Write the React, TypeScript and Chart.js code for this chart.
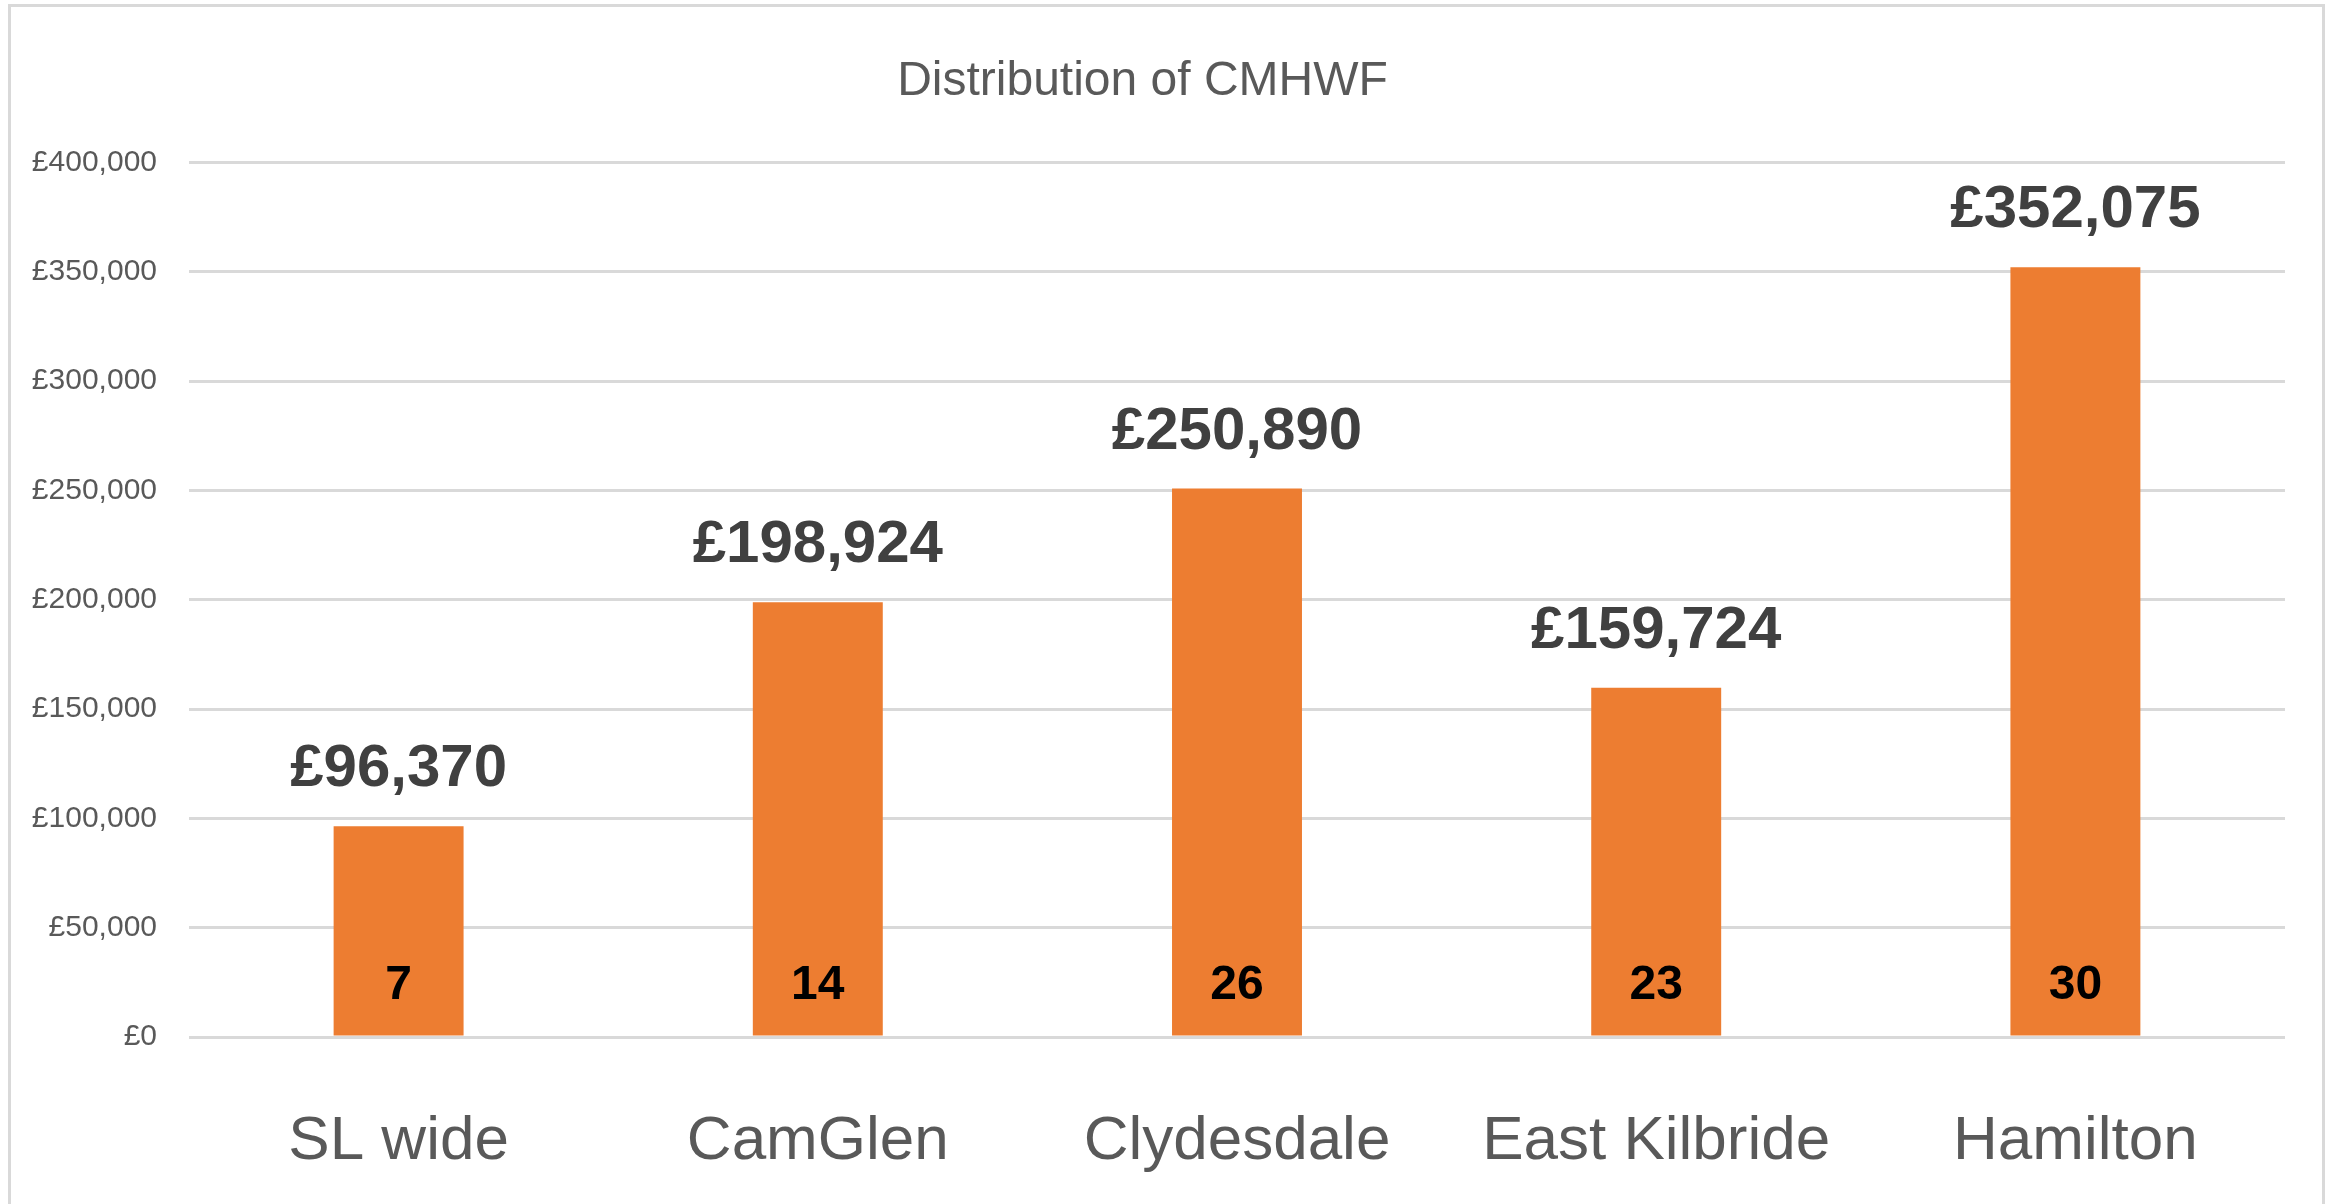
import React, { useEffect, useRef } from "react";
import { Chart, registerables } from "chart.js";

Chart.register(...registerables);

const categories = ["SL wide", "CamGlen", "Clydesdale", "East Kilbride", "Hamilton"];
const funding = [96370, 198924, 250890, 159724, 352075];
const counts = [7, 14, 26, 23, 30];
const chartTitle = "Distribution of CMHWF";
const yMin = 0;
const yMax = 400000;
const yStep = 50000;

const FONT = "'Liberation Sans', Arial, sans-serif";
const W = 2326;
const H = 1204;

const fmt = (v: number) => "£" + Math.round(v).toLocaleString("en-GB");

const labelPlugin = {
  id: "barLabels",
  beforeDraw(chart: any) {
    const ctx = chart.ctx;
    ctx.save();
    ctx.strokeStyle = "#d9d9d9";
    ctx.lineWidth = 3;
    ctx.strokeRect(9.5, 5.5, W - 12, H + 50);
    ctx.restore();
  },
  afterDatasetsDraw(chart: any) {
    const ctx = chart.ctx;
    const meta = chart.getDatasetMeta(0);
    const base = chart.scales.y.getPixelForValue(0);
    ctx.save();
    ctx.textAlign = "center";
    meta.data.forEach((bar: any, i: number) => {
      ctx.fillStyle = "#404040";
      ctx.font = `bold 60px ${FONT}`;
      ctx.textBaseline = "alphabetic";
      ctx.fillText(fmt(funding[i]), bar.x, bar.y - 40);
      ctx.fillStyle = "#000000";
      ctx.font = `bold 48px ${FONT}`;
      ctx.textBaseline = "alphabetic";
      ctx.fillText(String(counts[i]), bar.x, base - 38);
    });
    ctx.restore();
  },
};

export default function App() {
  const ref = useRef<HTMLCanvasElement | null>(null);

  useEffect(() => {
    document.body.style.margin = "0";
    const canvas = ref.current;
    if (!canvas) return;
    const chart = new Chart(canvas, {
      type: "bar",
      data: {
        labels: categories,
        datasets: [
          {
            data: funding,
            backgroundColor: "#ED7D31",
            borderWidth: 0,
            barPercentage: 0.31,
            categoryPercentage: 1.0,
          },
        ],
      },
      options: {
        responsive: false,
        animation: false,
        devicePixelRatio: 1,
        layout: { padding: { left: 0, right: W - 2285, top: 0, bottom: 0 } },
        plugins: {
          legend: { display: false },
          tooltip: { enabled: false },
          title: {
            display: true,
            text: chartTitle,
            color: "#595959",
            font: { family: FONT, size: 48, weight: "normal", lineHeight: 1.2 },
            padding: { top: 53, bottom: 52 },
          },
        },
        scales: {
          x: {
            grid: { display: false, drawTicks: false },
            border: { display: false },
            ticks: {
              color: "#595959",
              font: { family: FONT, size: 62, lineHeight: 1.2 },
              padding: 68,
              maxRotation: 0,
              autoSkip: false,
            },
            afterFit: (s: any) => {
              s.height = H - 1037;
            },
          },
          y: {
            min: yMin,
            max: yMax,
            grid: { color: "#D9D9D9", lineWidth: 3, drawTicks: false },
            border: { display: false },
            ticks: {
              stepSize: yStep,
              color: "#595959",
              font: { family: FONT, size: 30, lineHeight: 1.2 },
              padding: 32,
              callback: (v: any) => fmt(Number(v)),
            },
            afterFit: (s: any) => {
              s.width = 189;
            },
          },
        },
      },
      plugins: [labelPlugin],
    });
    return () => chart.destroy();
  }, []);

  return (
    <div style={{ width: W, height: H, background: "#ffffff" }}>
      <canvas ref={ref} width={W} height={H} style={{ display: "block", width: W, height: H }} />
    </div>
  );
}
